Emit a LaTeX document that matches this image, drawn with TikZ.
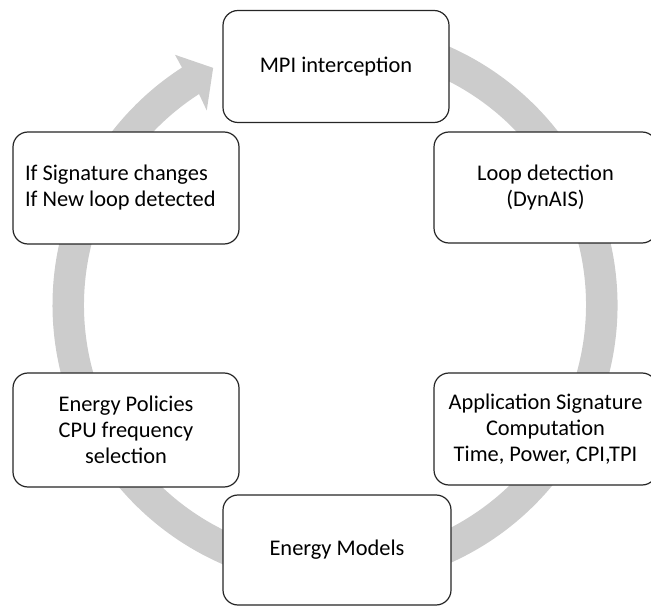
\documentclass[tikz,border=0pt]{standalone}
\usepackage{fontspec}
\setmainfont{Carlito}
\begin{document}
\begin{tikzpicture}[x=1pt,y=1pt,
  stagebox/.style={draw=black!85, line width=1.2pt, fill=white,
    rounded corners=15pt, minimum width=226pt, minimum height=112pt,
    inner sep=0pt, align=center,
    font=\fontsize{22.4}{26}\selectfont},
  cycleband/.style={fill=black!20}
]
\useasboundingbox (0,0) rectangle (651,606);
\clip (0,0) rectangle (651,606);

% grey circular arrow running clockwise behind the stages
\begin{scope}[shift={(335,301)}]
  \fill[cycleband]
    (122.8:251pt) arc[start angle=122.8, end angle=460, radius=251pt]
    -- (460:282.5pt) arc[start angle=460, end angle=122.8, radius=282.5pt]
    -- (122.6:297pt) -- (117.2:266.6pt) -- (123.4:233pt) -- cycle;
\end{scope}

% stages of the cycle
\node[stagebox] (mpi)  at (336,539.5) {MPI interception};
\node[stagebox, minimum width=223pt, minimum height=111pt] (loop) at (545.5,418.5)
  {Loop detection\\(DynAIS)};
\node[stagebox, minimum width=223pt] (app) at (545.5,177)
  {Application Signature\\Computation\\Time, Power, CPI,TPI};
\node[stagebox, minimum width=228pt, minimum height=110pt] (models) at (337,56)
  {Energy Models};
\node[stagebox, minimum height=114pt] (pol) at (126,176)
  {Energy Policies\\CPU frequency\\selection};
\node[stagebox, align=flush left, text width=202pt, inner xsep=12pt] (sig) at (126,418)
  {If Signature changes\\If New loop detected};
\end{tikzpicture}
\end{document}
